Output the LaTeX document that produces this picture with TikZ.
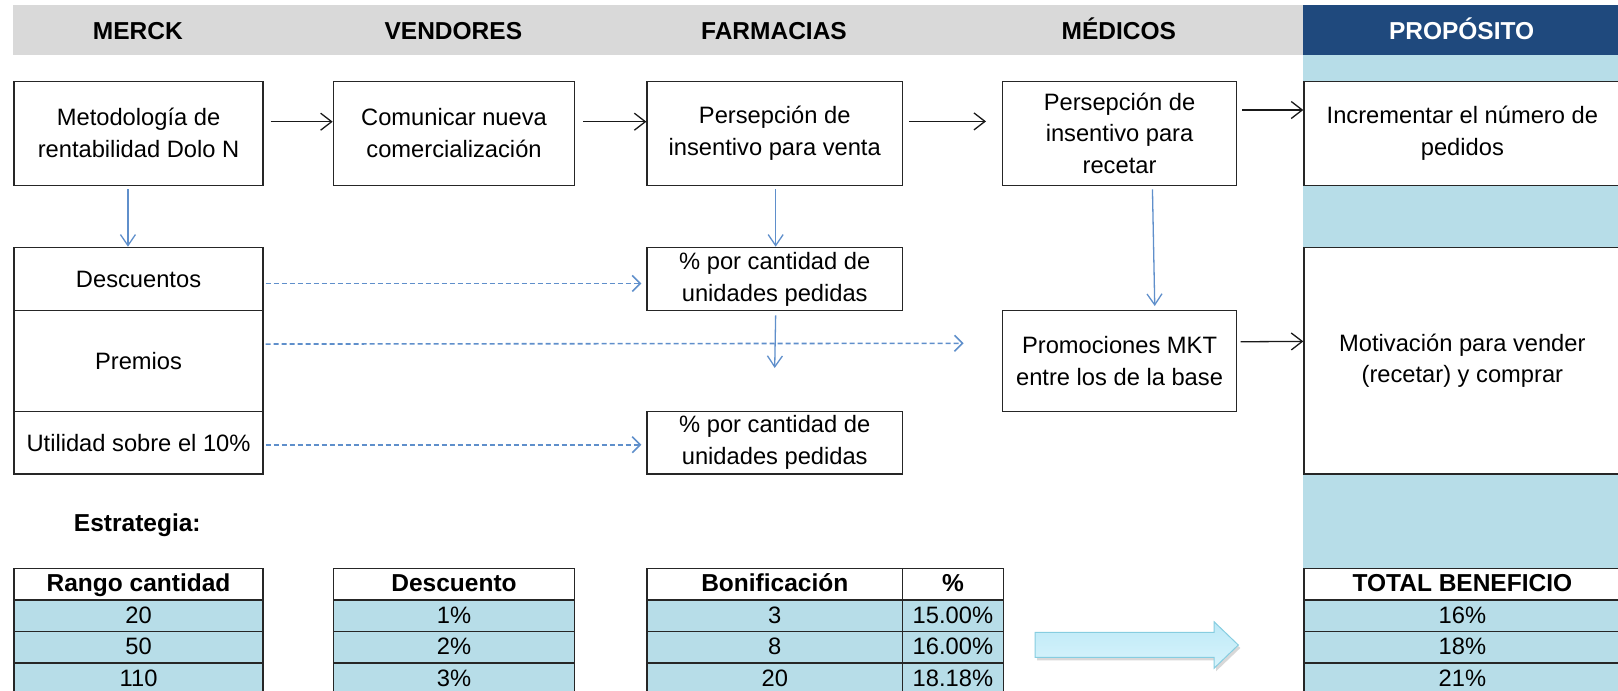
\documentclass[tikz,border=0pt]{standalone}
\usepackage{fontspec}
\setmainfont{Liberation Sans}
\usetikzlibrary{arrows.meta,calc}
\definecolor{lb}{HTML}{B7DDE8}
\definecolor{db}{HTML}{1F497D}
\definecolor{gb}{HTML}{D9D9D9}
\definecolor{ab}{HTML}{5F8FCB}
\definecolor{arrtop}{HTML}{BDE9F7}
\definecolor{arrbot}{HTML}{D8F4FC}
\definecolor{arredge}{HTML}{86CDE0}
\begin{document}
\begin{tikzpicture}[x=1pt,y=-1pt,
  box/.style={draw=black!85, line width=1.4pt, fill=white, inner sep=0pt, align=center, anchor=north west, font=\fontsize{23.7}{31.7}\selectfont},
  hdr/.style={font=\fontsize{24.5}{29}\selectfont\bfseries, inner sep=0pt, anchor=base},
  blk/.style={draw=black!90, line width=1.3pt, -{Straight Barb[length=11pt,width=17pt]}},
  bluarr/.style={draw=ab, line width=1.3pt, -{Straight Barb[length=11pt,width=15pt]}},
  dasharr/.style={draw=ab, line width=1.6pt, dash pattern=on 5pt off 3pt, -{Straight Barb[length=8pt,width=16pt]}},
  cell/.style={draw=black!85, line width=1.4pt, fill=lb, inner sep=0pt, anchor=north west, font=\fontsize{23.7}{28}\selectfont, minimum height=31.4pt, text height=19pt, text depth=4pt},
  hcell/.style={cell, fill=white, font=\fontsize{24.5}{28}\selectfont\bfseries},
]
\useasboundingbox (0,0) rectangle (1618,691);
% backgrounds
\fill[gb] (13.4,5) rectangle (1303.3,55);
\fill[db] (1303.3,5) rectangle (1625,55);
\fill[lb] (1303.3,55) rectangle (1625,700);
% headers
\node[hdr] (hm) at (137.85,39.5) {MERCK};
\node[hdr] (hv) at (453.35,39.5) {VENDORES};
\node[hdr] (hf) at (774,39.5) {FARMACIAS};
\node[hdr] (hd) at (1118.85,39.5) {MÉDICOS};
\node[hdr, text=white] (hp) at (1461.6,39.5) {PROPÓSITO};
% row 1
\node[box, minimum width=248.9pt, minimum height=104pt] (b1) at (13.4,80.5) {Metodología de\\rentabilidad Dolo N};
\node[box, minimum width=241.3pt, minimum height=104pt] (b2) at (332.7,80.5) {Comunicar nueva\\comercialización};
\node[box, minimum width=255.3pt, minimum height=104pt] (b3) at (646.4,80.5) {Persepción de\\insentivo para venta};
\node[box, minimum width=234.3pt, minimum height=104pt] (b4) at (1001.7,80.5) {Persepción de\\insentivo para\\recetar};
\node[box, minimum width=316.7pt, minimum height=104pt] (b5) at (1303.3,80.5) {Incrementar el número de\\pedidos};
% row 2
\node[box, minimum width=248.9pt, minimum height=63.3pt] (desc) at (13.4,246.7) {Descuentos};
\node[box, minimum width=248.9pt, minimum height=100.7pt] (prem) at (13.4,310) {Premios};
\node[box, minimum width=248.9pt, minimum height=62.6pt] (util) at (13.4,410.7) {Utilidad sobre el 10\%};
\node[box, minimum width=255.3pt, minimum height=63.3pt] (farmA) at (646.4,246.7) {\% por cantidad de\\unidades pedidas};
\node[box, minimum width=255.3pt, minimum height=62.6pt] (farmB) at (646.4,410.7) {\% por cantidad de\\unidades pedidas};
\node[box, minimum width=234.3pt, minimum height=100.7pt] (promo) at (1001.7,310) {Promociones MKT\\entre los de la base};
\node[box, minimum width=316.7pt, minimum height=226.6pt] (motiv) at (1303.3,246.7) {Motivación para vender\\(recetar) y comprar};
% connectors row 1
\draw[blk] ([shift={(7,-11.5)}]b1.east) -- ([shift={(0,-11.5)}]b2.west);
\draw[blk] ([shift={(7.7,-11.5)}]b2.east) -- ([shift={(0,-11.5)}]b3.west);
\draw[blk] ([shift={(6.3,-11.8)}]b3.east) -- ([shift={(-15.7,-11.8)}]b4.west);
\draw[blk] ([shift={(4.7,-23.2)}]b4.east) -- ([shift={(0,-23.2)}]b5.west);
\draw[blk] ([shift={(3.3,-19.3)}]promo.east) -- ([shift={(0,-19.3)}]motiv.west);
% blue arrows
\coordinate (fAend) at (774.7,368);
\coordinate (premEnd) at (963.6,343.3);
\draw[bluarr] ([shift={(-10.6,3.5)}]b1.south) -- ([shift={(-10.6,0)}]desc.north);
\draw[bluarr] ([shift={(0.9,3.5)}]b3.south) -- ([shift={(0.9,0)}]farmA.north);
\draw[bluarr] ([shift={(0.9,4)}]farmA.south) -- (fAend);
\draw[bluarr] ([shift={(32.9,3.5)}]b4.south) -- ([shift={(35.2,-4)}]promo.north);
% dashed
\draw[dasharr] ([shift={(2,4.4)}]desc.east) -- ([shift={(-5,4.4)}]farmA.west);
\draw[dasharr] ([shift={(2,-17)}]prem.east) -- (premEnd);
\draw[dasharr] ([shift={(2,2)}]util.east) -- ([shift={(-5,2)}]farmB.west);
% Estrategia
\node[hdr] (estr) at (137.3,531.5) {Estrategia:};
% tables
\node[hcell, minimum width=248.9pt] (t1h) at (13.4,568) {Rango cantidad};
\node[cell, minimum width=248.9pt] (t1a) at (13.4,599.4) {20};
\node[cell, minimum width=248.9pt] (t1b) at (13.4,630.8) {50};
\node[cell, minimum width=248.9pt] (t1c) at (13.4,662.2) {110};
\node[hcell, minimum width=241.3pt] (t2h) at (332.7,568) {Descuento};
\node[cell, minimum width=241.3pt] (t2a) at (332.7,599.4) {1\%};
\node[cell, minimum width=241.3pt] (t2b) at (332.7,630.8) {2\%};
\node[cell, minimum width=241.3pt] (t2c) at (332.7,662.2) {3\%};
\node[hcell, minimum width=255.3pt] (t3h) at (646.4,568) {Bonificación};
\node[cell, minimum width=255.3pt] (t3a) at (646.4,599.4) {3};
\node[cell, minimum width=255.3pt] (t3b) at (646.4,630.8) {8};
\node[cell, minimum width=255.3pt] (t3c) at (646.4,662.2) {20};
\node[hcell, minimum width=101pt] (t3ph) at (901.7,568) {\%};
\node[cell, minimum width=101pt] (t3pa) at (901.7,599.4) {15.00\%};
\node[cell, minimum width=101pt] (t3pb) at (901.7,630.8) {16.00\%};
\node[cell, minimum width=101pt] (t3pc) at (901.7,662.2) {18.18\%};
\node[hcell, minimum width=316.7pt] (t4h) at (1303.3,568) {TOTAL BENEFICIO};
\node[cell, minimum width=316.7pt] (t4a) at (1303.3,599.4) {16\%};
\node[cell, minimum width=316.7pt] (t4b) at (1303.3,630.8) {18\%};
\node[cell, minimum width=316.7pt] (t4c) at (1303.3,662.2) {21\%};
% block arrow
\fill[black!30, opacity=0.5] (1037,635.3) -- (1216,635.3) -- (1216,624.7) -- (1240.3,648) -- (1216,671.3) -- (1216,660.3) -- (1037,660.3) -- cycle;
\shade[top color=arrtop, bottom color=arrbot, draw=arredge, line width=1pt, line join=miter]
  (1035,632.3) -- (1214,632.3) -- (1214,621.7) -- (1238.3,645) -- (1214,668.3) -- (1214,657.3) -- (1035,657.3) -- cycle;
\end{tikzpicture}
\end{document}
